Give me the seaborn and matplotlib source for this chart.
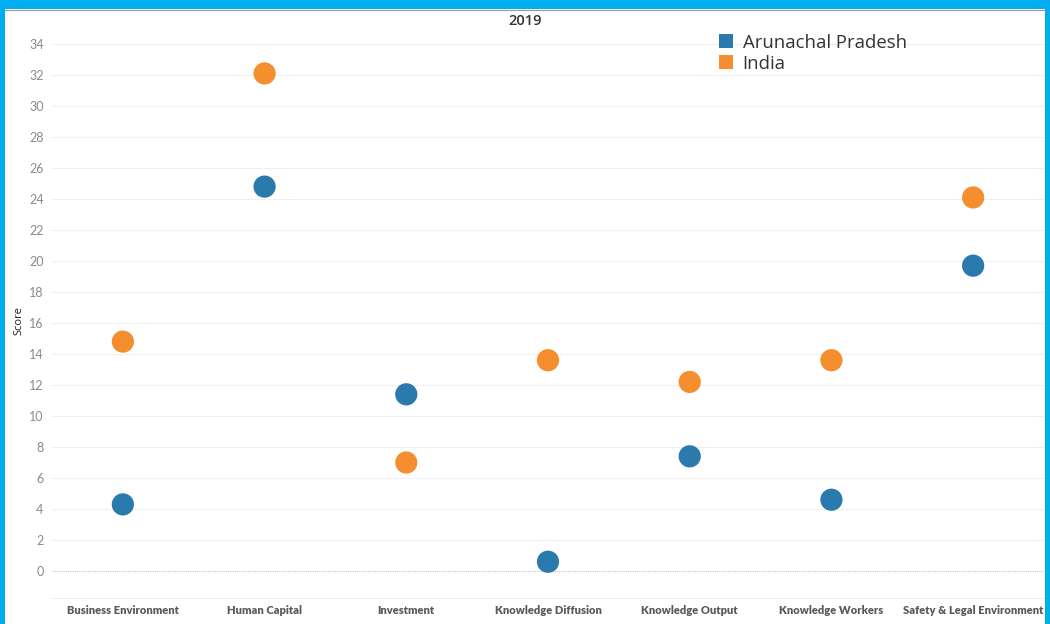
import matplotlib
matplotlib.use("Agg")
import matplotlib.pyplot as plt
import matplotlib.patches as mpatches
from matplotlib.lines import Line2D
import seaborn as sns
import pandas as pd
import numpy as np

categories = ["Business Environment", "Human Capital", "Investment", "Knowledge Diffusion",
              "Knowledge Output", "Knowledge Workers", "Safety & Legal Environment"]
arunachal = [4.3, 24.8, 11.4, 0.6, 7.4, 4.6, 19.7]
india = [14.8, 32.1, 7.0, 13.6, 12.2, 13.6, 24.1]
series_names = ["Arunachal Pradesh", "India"]
y_ticks = list(range(0, 35, 2))
title = "2019"

colors = {"Arunachal Pradesh": "#2a7aae", "India": "#f58e2e"}

df = pd.DataFrame({
    "Category": categories * 2,
    "Score": arunachal + india,
    "Series": [series_names[0]] * len(categories) + [series_names[1]] * len(categories),
})

sns.set_style("white")
plt.rcParams["font.family"] = ["DejaVu Sans"]

fig = plt.figure(figsize=(10.5, 6.24), dpi=100)
W, H = 1050, 624
ax = fig.add_axes([52 / W, 1 - 598 / H, (1044 - 52) / W, (598 - 44) / H])

sns.stripplot(data=df, x="Category", y="Score", hue="Series", order=categories,
              hue_order=series_names, palette=colors, jitter=False, dodge=False,
              size=16, linewidth=0, ax=ax, legend=False, zorder=3)

ax.set_xlim(-0.5, len(categories) - 0.5)
ax.set_ylim(-1.74, 34)
ax.set_yticks(y_ticks)
ax.set_yticklabels([str(t) for t in y_ticks], color="#8a8a8a", fontsize=9, family="Lato")
for t in y_ticks:
    if t == 0:
        ax.axhline(t, color="#c8c8c8", lw=0.8, ls=(0, (1, 1)), zorder=1)
    else:
        ax.axhline(t, color="#efefef", lw=0.8, zorder=1)
ax.tick_params(axis="y", length=0, pad=6)
ax.tick_params(axis="x", length=0, pad=5)
ax.set_xticks(range(len(categories)))
ax.set_xticklabels(categories, fontsize=8, fontweight="heavy", color="#5a5a5a", family="Lato")
ax.set_xticks(np.arange(-0.5, len(categories) + 0.5, 1), minor=True)
ax.tick_params(axis="x", which="minor", length=3, color="#eeeeee", direction="out")
for s in ["top", "right", "left"]:
    ax.spines[s].set_visible(False)
ax.spines["bottom"].set_color("#eeeeee")
ax.spines["bottom"].set_linewidth(0.8)
ax.set_xlabel("")
ax.set_ylabel("Score", fontsize=8, color="#222222", labelpad=3, family="Open Sans")

fig.text(0.5, 1 - 21 / H, title, ha="center", va="center", fontsize=10.5, color="#333333",
         family="Open Sans", fontweight="semibold")

handles = [mpatches.Patch(facecolor=colors[n], edgecolor="none") for n in series_names]
leg = fig.legend(handles, series_names, loc="upper left",
                 bbox_to_anchor=(715 / W, 1 - 30 / H), frameon=False,
                 prop={"family": "Open Sans", "size": 13.3}, handlelength=0.8,
                 handleheight=0.8, handletextpad=0.5, labelspacing=0.17,
                 borderaxespad=0, borderpad=0.2)
for txt in leg.get_texts():
    txt.set_color("#333333")

# blue frame
blue = "#00adef"
fig.patches.append(mpatches.Rectangle((0, 1 - 9 / H), 1, 9 / H, transform=fig.transFigure,
                                      facecolor=blue, edgecolor="none", zorder=10))
fig.patches.append(mpatches.Rectangle((0, 0), 5 / W, 1, transform=fig.transFigure,
                                      facecolor=blue, edgecolor="none", zorder=10))
fig.patches.append(mpatches.Rectangle((1 - 5 / W, 0), 5 / W, 1, transform=fig.transFigure,
                                      facecolor=blue, edgecolor="none", zorder=10))
fig.lines.append(Line2D([5 / W, 1 - 5 / W], [1 - 10 / H, 1 - 10 / H], transform=fig.transFigure,
                        color="#999999", lw=0.8, zorder=9))

fig.savefig("out.png", dpi=100)
